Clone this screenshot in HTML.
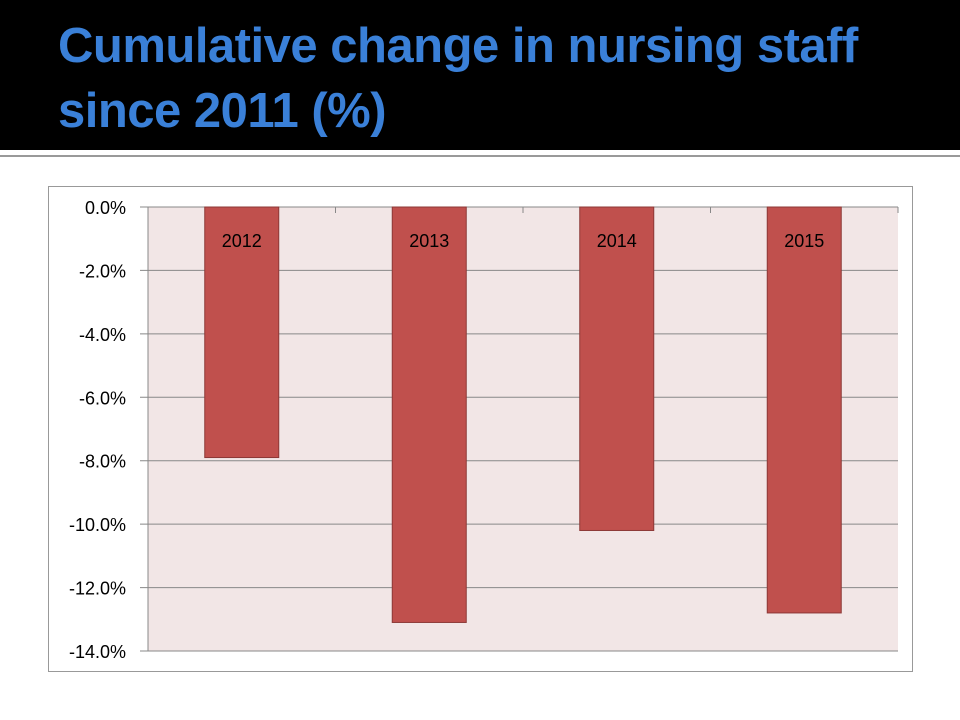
<!DOCTYPE html>
<html><head><meta charset="utf-8"><style>
body{margin:0;width:960px;height:720px;background:#fff;position:relative;overflow:hidden;font-family:"Liberation Sans",sans-serif}
#band{position:absolute;left:0;top:0;width:960px;height:150px;background:#000}
#title{position:absolute;left:58px;top:14px;color:#3a80d8;font-size:49px;font-weight:bold;line-height:65px;letter-spacing:-0.5px}
#rule{position:absolute;left:0;top:155px;width:960px;height:2px;background:#999}
#box{position:absolute;left:48px;top:186px;width:865px;height:486px;border:1px solid #999;box-sizing:border-box}
</style></head><body>
<div id="band"></div>
<div id="title">Cumulative change in nursing staff<br>since 2011 (%)</div>
<div id="rule"></div>
<div id="box"></div>
<svg id="chart" width="960" height="720" style="position:absolute;left:0;top:0"></svg>
<script>
const categories=["2012","2013","2014","2015"];
const values=[-7.9,-13.1,-10.2,-12.8];
const ticks=[0,-2,-4,-6,-8,-10,-12,-14];
const tickLabels=["0.0%","-2.0%","-4.0%","-6.0%","-8.0%","-10.0%","-12.0%","-14.0%"];
const svg=document.getElementById('chart');
const NS='http://www.w3.org/2000/svg';
const L=148,R=898,T=207,B=651;
const y=v=>T+(0-v)/14*(B-T);
const band=(R-L)/categories.length;
const x=i=>L+band*i;
function mk(t,a){const e=document.createElementNS(NS,t);for(const k in a)e.setAttribute(k,a[k]);svg.appendChild(e);return e;}
const bg=mk('rect',{x:L,y:T,width:R-L,height:B-T,fill:'#f2e6e6'});


ticks.forEach((t,i)=>{
 const g=mk('line',{x1:140,x2:R,y1:y(t),y2:y(t),stroke:'#888','stroke-width':1});
 
 
 const tx=mk('text',{x:126,y:y(t)+7,'text-anchor':'end','font-size':18,fill:'#000','font-family':'Liberation Sans, sans-serif'});
 tx.textContent=tickLabels[i];
 
 
});
const ax=mk('line',{x1:L,x2:L,y1:T,y2:B,stroke:'#888'});


for(let i=0;i<=categories.length;i++){
 const tk=mk('line',{x1:x(i),x2:x(i),y1:T,y2:T+6,stroke:'#888'});
 
 
}
const bw=74;
categories.forEach((c,i)=>{
 const cx=x(i)+band/2;
 const r=mk('rect',{x:cx-bw/2,y:y(0),width:bw,height:y(values[i])-y(0),fill:'#c0504d',stroke:'#8c3836','stroke-width':1});
 
 
 const t=mk('text',{x:cx,y:y(0)+40,'text-anchor':'middle','font-size':18,fill:'#000','font-family':'Liberation Sans, sans-serif'});
 t.textContent=c;
 
 
});
</script>
</body></html>
